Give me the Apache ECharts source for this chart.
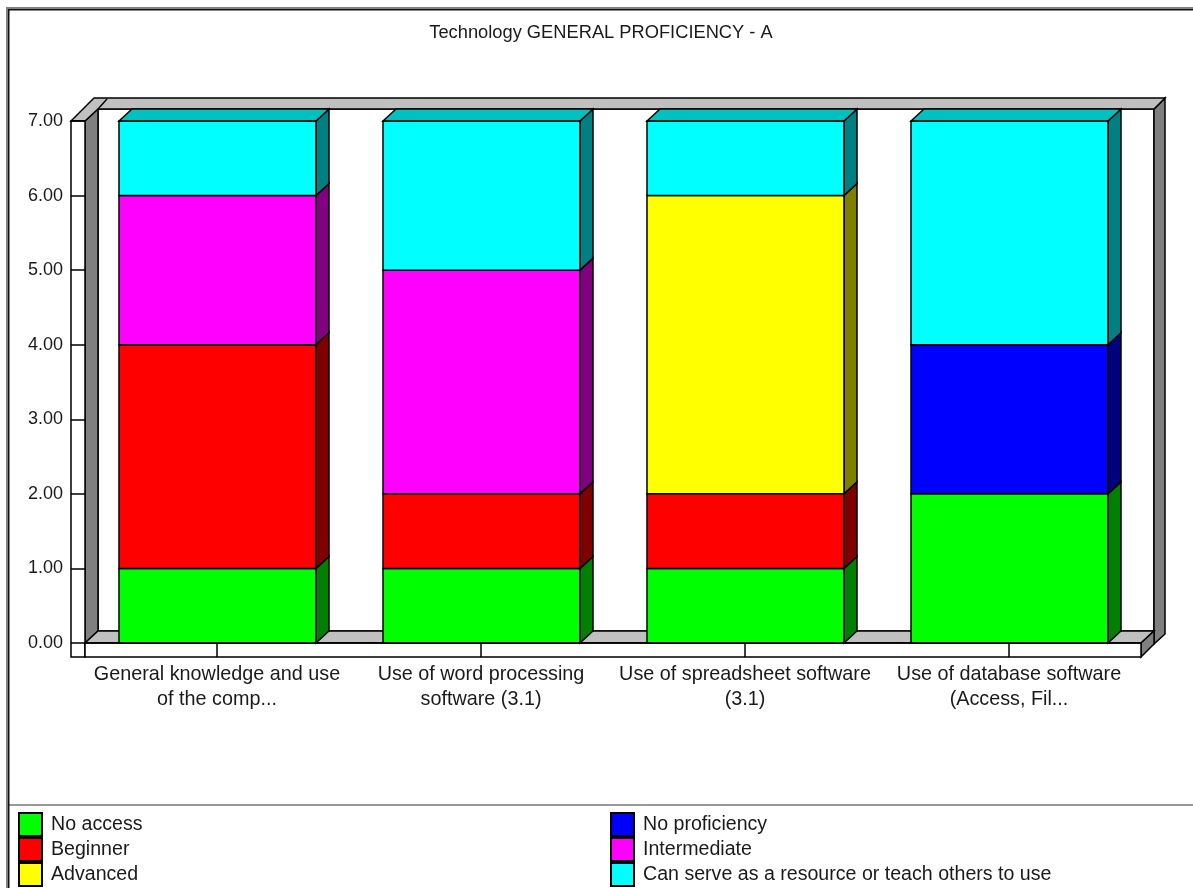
<!DOCTYPE html>
<html><head><meta charset="utf-8">
<style>html,body{margin:0;padding:0;background:#fff}#c{width:1193px;height:888px}</style>
<script src="https://cdn.jsdelivr.net/npm/echarts@6/dist/echarts.min.js"></script>
</head><body><div id="c"></div>
<script>
const chartTitle = 'Technology GENERAL PROFICIENCY - A';
const categories = ['General knowledge and use\nof the comp...','Use of word processing\nsoftware (3.1)','Use of spreadsheet software\n(3.1)','Use of database software\n(Access, Fil...'];
const noAccess      = [1,1,1,2];
const noProficiency = [0,0,0,2];
const beginner      = [3,1,1,0];
const intermediate  = [2,3,0,0];
const advanced      = [0,0,4,0];
const resource      = [1,2,1,3];
const names  = ['No access','No proficiency','Beginner','Intermediate','Advanced','Can serve as a resource or teach others to use'];
const values = [noAccess,noProficiency,beginner,intermediate,advanced,resource];
const colors = ['#00ff00','#0000ff','#ff0000','#ff00ff','#ffff00','#00ffff'];
const sideColors = ['#008000','#000080','#800000','#800080','#808000','#008080'];
const topColors  = ['#00c000','#0000c0','#c00000','#c000c0','#c0c000','#00c0c0'];
const FONT = '"Liberation Sans", Arial, sans-serif';
const DX = 13, DY = 12;
const TXT = '#1a1a1a';

const chart = echarts.init(document.getElementById('c'), null, {renderer:'canvas'});
const line = {stroke:'#000', lineWidth:1.5};

function poly(pts, fill, z2){
  return {type:'polygon', shape:{points:pts}, z2:z2||0, style:Object.assign({fill}, line)};
}
function renderFrame(params){
  const g = params.coordSys, L=g.x, T=g.y, R=g.x+g.width, B=g.y+g.height;
  const strip = 14, rim = 11;
  const iL=L+DX, iT=T-DY, iR=R+DX, iB=B-DY;
  return {type:'group', children:[
    {type:'rect', shape:{x:iL,y:iT,width:iR-iL,height:iB-iT}, style:{fill:'#fff',stroke:'#000',lineWidth:1.5}},
    poly([[L,T],[iL,iT],[iL,iB],[L,B]],'#808080'),
    poly([[iR,iT],[iR+rim,iT-rim],[iR+rim,iB+3],[iR,iB+13]],'#808080'),
    poly([[L-strip,T],[L-strip+23,iT-rim],[iR+rim,iT-rim],[iR,iT],[iL,iT],[L,T]],'#c0c0c0'),
    {type:'line', shape:{x1:iL,y1:iT,x2:iL+9,y2:iT-rim+1}, style:{stroke:'#000',lineWidth:1.5}},
    poly([[L,B],[iL,iB],[iR,iB],[R,B]],'#c0c0c0'),
    poly([[R,B],[iR,iB],[iR,iB+13],[R,B+strip]],'#808080'),
    {type:'rect', shape:{x:L-strip,y:T,width:strip,height:g.height+strip}, style:{fill:'#fff',stroke:'#000',lineWidth:1.5}},
    {type:'rect', shape:{x:L,y:B,width:g.width,height:strip}, style:{fill:'#fff',stroke:'#000',lineWidth:1.5}}
  ]};
}
function makeRenderer(idx){
  return function(params, api){
    const cat = api.value(0), lo = api.value(1), hi = api.value(2);
    if (hi <= lo) return {type:'group', children:[]};
    const c = api.coord([cat, lo]), d = api.coord([cat, hi]);
    const w = api.size([1,0])[0] * 197/264;
    const x0 = c[0]-w/2+0.5, x1 = x0+w, yb = c[1], yt = d[1];
    const kids = [
      poly([[x1,yb],[x1+DX,yb-DY],[x1+DX,yt-DY],[x1,yt]], sideColors[idx]),
      {type:'rect', shape:{x:x0,y:yt,width:w,height:yb-yt}, style:Object.assign({fill:colors[idx]}, line)}
    ];
    if (hi >= 7) kids.push(poly([[x0,yt],[x0+DX,yt-DY],[x1+DX,yt-DY],[x1,yt]], topColors[idx]));
    return {type:'group', children:kids};
  };
}
const running = categories.map(()=>0);
const barSeries = names.map((name, idx)=>{
  const data = values[idx].map((v,i)=>{
    const lo = running[i]; running[i] += v; return [i, lo, running[i]];
  });
  return {type:'custom', name, coordinateSystem:'cartesian2d', clip:false, z:3+idx,
    itemStyle:{color:colors[idx]}, encode:{x:0,y:[1,2]}, data, renderItem:makeRenderer(idx)};
});
const legendBase = {orient:'vertical', itemWidth:23, itemHeight:23, itemGap:0, icon:'rect', selectedMode:false,
  itemStyle:{borderColor:'#000',borderWidth:2}, padding:0, height:200,
  textStyle:{fontFamily:FONT,fontSize:19.6,lineHeight:20,color:TXT,padding:[2,0,0,4]}};
chart.setOption({
  animation:false, backgroundColor:'#fff',
  title:{text:chartTitle,left:601,top:24,textAlign:'center',padding:0,
    textStyle:{fontFamily:FONT,fontSize:18.3,fontWeight:'normal',color:TXT}},
  grid:{left:85,top:121,width:1056,height:522,containLabel:false},
  xAxis:{type:'category',data:categories,
    axisLine:{show:true,lineStyle:{color:'#000',width:1.5}},
    axisTick:{show:true,alignWithLabel:true,length:14,lineStyle:{color:'#000',width:1.5}},
    axisLabel:{fontFamily:FONT,fontSize:19.8,color:TXT,margin:19,lineHeight:25,interval:0},
    splitLine:{show:false}, z:20},
  yAxis:{type:'value',min:0,max:7,interval:1,
    axisLine:{show:false},
    axisTick:{show:true,length:14,lineStyle:{color:'#000',width:1.5}},
    axisLabel:{fontFamily:FONT,fontSize:18,color:TXT,margin:22,formatter:v=>v.toFixed(2)},
    splitLine:{show:false}, z:20},
  legend:[
    Object.assign({},legendBase,{left:18,top:812,data:['No access','Beginner','Advanced']}),
    Object.assign({},legendBase,{left:610,top:812,data:['No proficiency','Intermediate','Can serve as a resource or teach others to use']})
  ],
  graphic:[
    {type:'rect',shape:{x:6,y:7,width:3,height:881},style:{fill:'#808080'},z:50},
    {type:'rect',shape:{x:6,y:7,width:1187,height:3},style:{fill:'#808080'},z:50},
    {type:'rect',shape:{x:8,y:9,width:1.5,height:879},style:{fill:'#111'},z:51},
    {type:'rect',shape:{x:8,y:9,width:1185,height:1.5},style:{fill:'#111'},z:51},
    {type:'rect',shape:{x:8,y:804,width:1185,height:2},style:{fill:'#999'},z:50}
  ],
  series:[{type:'custom',name:'frame',coordinateSystem:'cartesian2d',clip:false,z:1,silent:true,
    encode:{x:0,y:1},data:[[0,0]],renderItem:renderFrame}].concat(barSeries)
});
</script></body></html>
